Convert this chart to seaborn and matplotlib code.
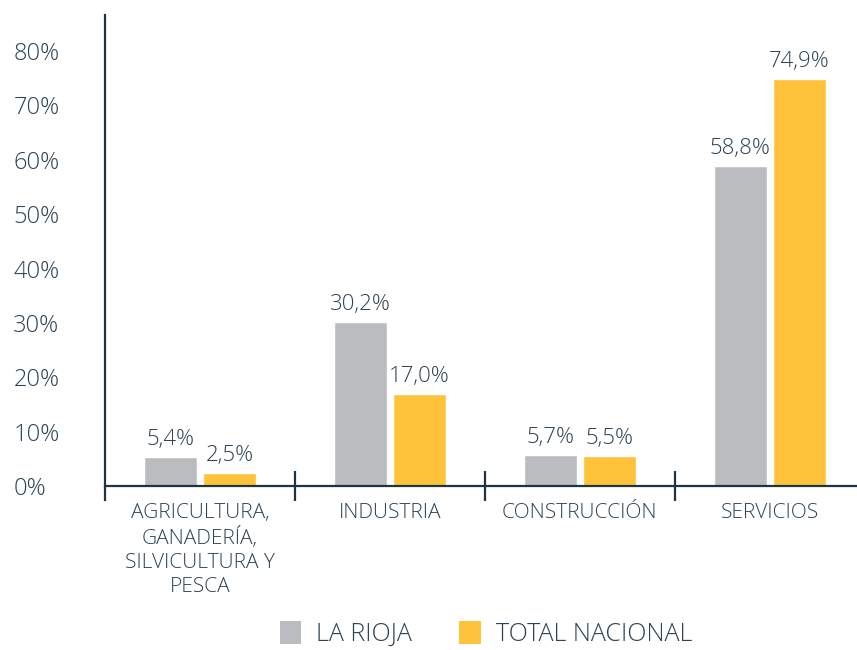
import pandas as pd
import matplotlib
matplotlib.use('Agg')
import matplotlib.pyplot as plt
import seaborn as sns
from matplotlib.ticker import FuncFormatter, FixedLocator
from matplotlib.patches import Patch

# Data
sectores = ['AGRICULTURA,\nGANADERÍA,\nSILVICULTURA Y\nPESCA', 'INDUSTRIA', 'CONSTRUCCIÓN', 'SERVICIOS']
la_rioja = [5.4, 30.2, 5.7, 58.8]
total_nacional = [2.5, 17.0, 5.5, 74.9]
series = ['LA RIOJA', 'TOTAL NACIONAL']
y_ticks = [0, 10, 20, 30, 40, 50, 60, 70, 80]

df = pd.DataFrame({
    'Sector': sectores * 2,
    'Valor': la_rioja + total_nacional,
    'Serie': [series[0]] * 4 + [series[1]] * 4,
})

gris = '#BBBCBF'
amarillo = '#FFC33B'
texto = '#2C4354'
eje = '#1E3444'

sns.set_style('white')
plt.rcParams['font.family'] = ['Open Sans', 'DejaVu Sans']
plt.rcParams['font.weight'] = 'light'

fig = plt.figure(figsize=(8.57, 6.5), dpi=100)
ax = fig.add_axes([0.1225, 0.231, 0.8775, 0.746])

sns.barplot(data=df, x='Sector', y='Valor', hue='Serie', palette=[gris, amarillo],
            width=0.62, gap=0.1, ax=ax, legend=False, saturation=1)

# Value labels with comma decimal
for cont, vals in zip(ax.containers, [la_rioja, total_nacional]):
    ax.bar_label(cont, labels=[f'{v:.1f}%'.replace('.', ',') for v in vals],
                 padding=5, fontsize=16, color=texto)

ax.set_xlim(-0.5, 3.46)
ax.set_ylim(-2.5, 86.6)
ax.yaxis.set_major_locator(FixedLocator(y_ticks))
ax.yaxis.set_major_formatter(FuncFormatter(lambda y, _: '{:.0f}%'.format(y)))
ax.tick_params(axis='y', length=0, labelsize=17, labelcolor=texto, pad=66)
for lbl in ax.get_yticklabels():
    lbl.set_horizontalalignment('left')

ax.spines['top'].set_visible(False)
ax.spines['right'].set_visible(False)
ax.spines['left'].set_color(eje)
ax.spines['left'].set_linewidth(1.6)
ax.spines['bottom'].set_color(eje)
ax.spines['bottom'].set_linewidth(1.6)
ax.spines['bottom'].set_position(('data', 0))

ax.set_xlabel('')
ax.set_ylabel('')
ax.tick_params(axis='x', which='major', bottom=True, length=0, labelsize=15, labelcolor=texto, pad=12)
for lbl in ax.get_xticklabels():
    lbl.set_linespacing(1.25)
ax.set_xticks([0.5, 1.5, 2.5], minor=True)
ax.tick_params(axis='x', which='minor', bottom=True, length=22, width=1.6, color=eje, direction='inout')

handles = [Patch(facecolor=gris, edgecolor='none'), Patch(facecolor=amarillo, edgecolor='none')]
fig.legend(handles, series, loc='lower center', bbox_to_anchor=(0.567, -0.03), ncol=2,
           frameon=False, fontsize=18, labelcolor=texto, handlelength=0.85, handleheight=1.0,
           handletextpad=0.6, columnspacing=1.9)

plt.savefig('out.png', dpi=100)
